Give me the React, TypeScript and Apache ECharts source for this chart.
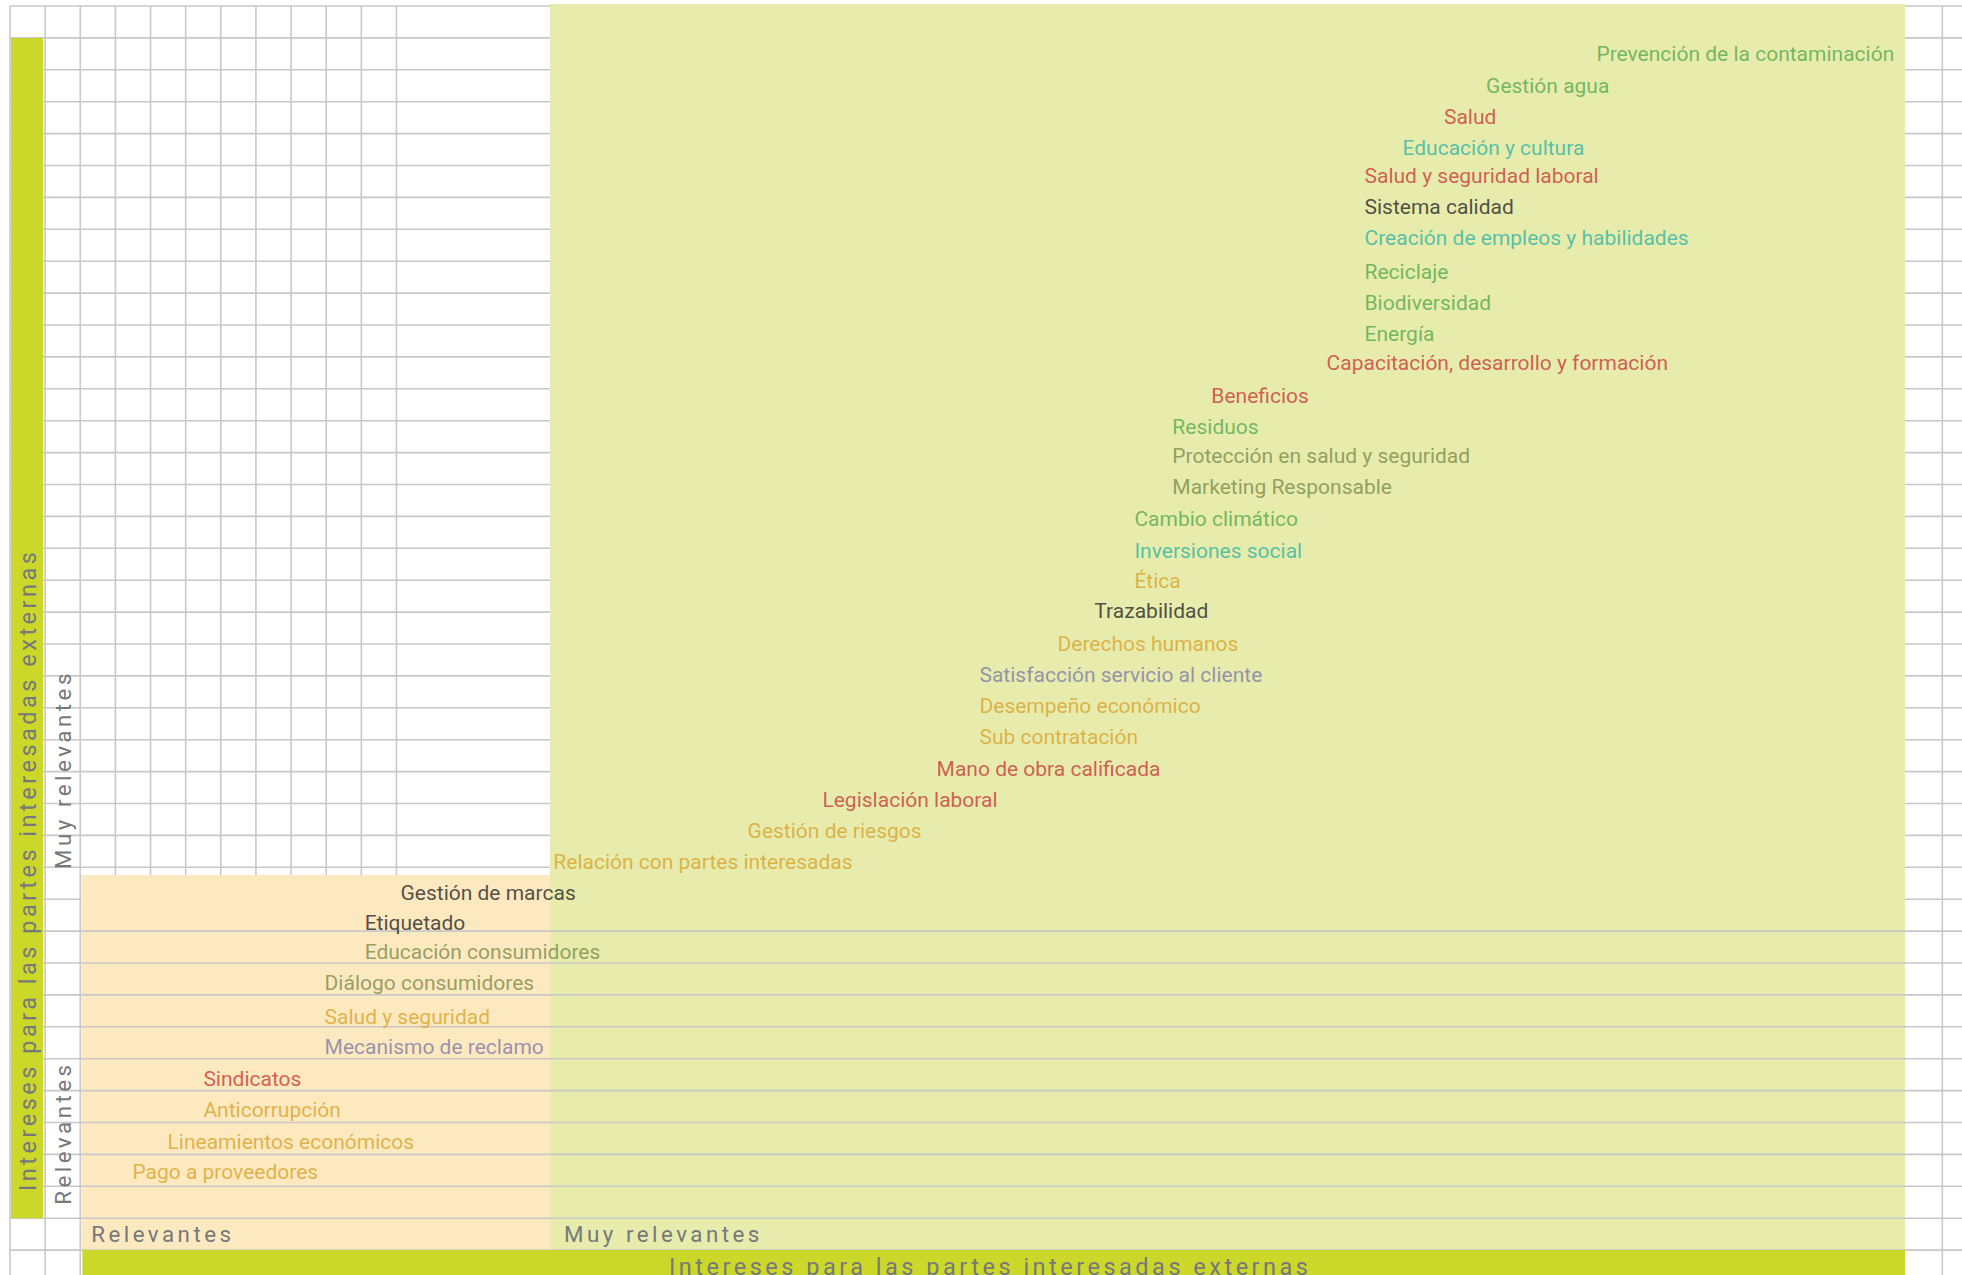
import React, { useEffect, useRef } from "react";
import * as echarts from "echarts";

// ---------- data ----------
const topics = [
  "Prevención de la contaminación",
  "Gestión agua",
  "Salud",
  "Educación y cultura",
  "Salud y seguridad laboral",
  "Sistema calidad",
  "Creación de empleos y habilidades",
  "Reciclaje",
  "Biodiversidad",
  "Energía",
  "Capacitación, desarrollo y formación",
  "Beneficios",
  "Residuos",
  "Protección en salud y seguridad",
  "Marketing Responsable",
  "Cambio climático",
  "Inversiones social",
  "Ética",
  "Trazabilidad",
  "Derechos humanos",
  "Satisfacción servicio al cliente",
  "Desempeño económico",
  "Sub contratación",
  "Mano de obra calificada",
  "Legislación laboral",
  "Gestión de riesgos",
  "Relación con partes interesadas",
  "Gestión de marcas",
  "Etiquetado",
  "Educación consumidores",
  "Diálogo consumidores",
  "Salud y seguridad",
  "Mecanismo de reclamo",
  "Sindicatos",
  "Anticorrupción",
  "Lineamientos económicos",
  "Pago a proveedores",
];

// horizontal position (grid columns)
const internalScore = [
  45.14, 42.0, 40.8, 39.62, 38.54, 38.54, 38.54, 38.54, 38.54, 38.54, 37.46,
  34.18, 33.07, 33.07, 33.07, 31.99, 31.99, 31.99, 30.85, 29.8, 27.58, 27.58,
  27.58, 26.36, 23.11, 20.98, 15.45, 11.1, 10.08, 10.08, 8.94, 8.94, 8.94,
  5.49, 5.49, 4.47, 3.47,
];

// vertical position (grid rows)
const externalScore = [
  37.49, 36.5, 35.52, 34.55, 33.67, 32.71, 31.72, 30.67, 29.69, 28.71, 27.81,
  26.77, 25.81, 24.89, 23.93, 22.92, 21.92, 20.97, 20.04, 19.0, 18.03, 17.05,
  16.07, 15.08, 14.11, 13.13, 12.16, 11.2, 10.25, 9.34, 8.37, 7.3, 6.36, 5.36,
  4.39, 3.4, 2.45,
];

const topicGroup = [
  "ambiental", "ambiental", "laboral", "comunidad", "laboral", "producto",
  "comunidad", "ambiental", "ambiental", "ambiental", "laboral", "laboral",
  "ambiental", "consumidor", "consumidor", "ambiental", "comunidad", "gobierno",
  "producto", "gobierno", "cliente", "gobierno", "gobierno", "laboral",
  "laboral", "gobierno", "gobierno", "producto", "producto", "consumidor",
  "consumidor", "gobierno", "cliente", "laboral", "gobierno", "gobierno",
  "gobierno",
];

const levelLabels = ["Relevantes", "Muy relevantes"];
const axisTitle = "Intereses para las partes interesadas externas";

// ---------- styles / layout ----------
const groupColors: Record<string, string> = {
  ambiental: "#56a84b",
  laboral: "#c93a37",
  comunidad: "#2fb4a3",
  producto: "#262626",
  consumidor: "#7b8b4a",
  gobierno: "#d9a32b",
  cliente: "#7e7ba8",
};

const X_MAX = 55.56;
const Y_MIN = -1;
const Y_MAX = 39;
const THRESHOLD_X = 15.37;
const THRESHOLD_Y = 11.76;
const ZONE_RIGHT = 53.94;
const GRID_COLOR = "#c8c8ca";
const GREEN_ZONE = "#e7ecad";
const PEACH_ZONE = "#fde9c0";
const BAR_GREEN = "#cbd82a";
const TITLE_COLOR = "#76787b";
const FONT = "Roboto";

const baseAxes = {
  grid: { left: 10, top: 6, width: 1952, height: 1276, outerBoundsMode: "none" },
  xAxis: { type: "value", min: 0, max: X_MAX, show: false },
  yAxis: { type: "value", min: Y_MIN, max: Y_MAX, show: false },
};

export default function App() {
  const mainRef = useRef<HTMLDivElement>(null);
  const overRef = useRef<HTMLDivElement>(null);

  useEffect(() => {
    document.body.style.margin = "0";
    document.body.style.overflow = "hidden";
    const chart = echarts.init(mainRef.current!, null, { renderer: "svg" });
    const over = echarts.init(overRef.current!, null, { renderer: "svg" });

    const frameRender = (_params: any, api: any) => {
      const c = (x: number, y: number) => api.coord([x, y]);
      const children: any[] = [];
      const line = (x0: number, y0: number, x1: number, y1: number) => {
        const a = c(x0, y0);
        const b = c(x1, y1);
        children.push({
          type: "line",
          shape: { x1: a[0], y1: a[1], x2: b[0], y2: b[1] },
          style: { stroke: GRID_COLOR, lineWidth: 1.6 },
        });
      };
      const rect = (x0: number, y0: number, x1: number, y1: number, fill: string) => {
        const p0 = c(x0, y1);
        const p1 = c(x1, y0);
        children.push({
          type: "rect",
          shape: { x: p0[0], y: p0[1], width: p1[0] - p0[0], height: p1[1] - p0[1] },
          style: { fill },
        });
      };
      for (let y = 0; y <= Y_MAX; y++) line(0, y, X_MAX, y);
      for (let x = 0; x <= 11; x++) line(x, Y_MIN, x, Y_MAX);
      line(55, Y_MIN, 55, Y_MAX);
      rect(THRESHOLD_X, 0, ZONE_RIGHT, Y_MAX + 0.06, GREEN_ZONE);
      rect(2.03, 0, THRESHOLD_X, THRESHOLD_Y, PEACH_ZONE);
      for (let y = 0; y <= 10; y++) line(2.03, y, ZONE_RIGHT, y);
      rect(0.03, 1, 0.94, 38, BAR_GREEN);
      rect(2.06, Y_MIN, ZONE_RIGHT, 0, BAR_GREEN);
      return { type: "group", children };
    };

    chart.setOption({
      animation: false,
      backgroundColor: "#ffffff",
      ...baseAxes,
      series: [
        {
          type: "custom",
          coordinateSystem: "cartesian2d",
          data: [[0, 0]],
          renderItem: frameRender,
          clip: false,
          silent: true,
          z: 1,
        },
        {
          type: "scatter",
          symbol: "circle",
          symbolSize: 1,
          itemStyle: { color: "rgba(0,0,0,0)" },
          silent: true,
          z: 5,
          label: {
            show: true,
            position: "right",
            distance: 0,
            formatter: "{b}",
            fontFamily: FONT,
            fontSize: 21,
          },
          labelLayout: { hideOverlap: false },
          data: topics.map((name, i) => ({
            name,
            value: [internalScore[i], externalScore[i]],
            label: { color: groupColors[topicGroup[i]] },
          })),
        },
      ],
    });

    const titleRender = (_params: any, api: any) => {
      const t = (text: string, x: number, y: number, size: number, align: string, rotated: boolean) => {
        const p = api.coord([x, y]);
        return {
          type: "text",
          x: p[0],
          y: p[1],
          rotation: rotated ? Math.PI / 2 : 0,
          style: {
            text,
            fill: TITLE_COLOR,
            font: `${size}px ${FONT}`,
            align,
            verticalAlign: "middle",
            textAlign: align,
            textVerticalAlign: "middle",
          },
        };
      };
      return {
        type: "group",
        children: [
          t(axisTitle, 0.5, 1.85, 23.5, "left", true),
          t(axisTitle, 27.9, -0.52, 23.5, "center", false),
          t(levelLabels[0], 2.31, 0.5, 22.3, "left", false),
          t(levelLabels[1], 15.77, 0.5, 22.3, "left", false),
          t(levelLabels[1], 1.5, 11.95, 22.3, "left", true),
          t(levelLabels[0], 1.5, 1.42, 22.3, "left", true),
        ],
      };
    };

    over.setOption({
      animation: false,
      ...baseAxes,
      series: [
        {
          type: "custom",
          coordinateSystem: "cartesian2d",
          data: [[0, 0]],
          renderItem: titleRender,
          clip: false,
          silent: true,
        },
      ],
    });

    return () => {
      chart.dispose();
      over.dispose();
    };
  }, []);

  return (
    <div style={{ position: "relative", width: 1962, height: 1275, overflow: "hidden" }}>
      <div ref={mainRef} style={{ position: "absolute", left: 0, top: 0, width: 1962, height: 1275 }} />
      <div
        ref={overRef}
        style={{
          position: "absolute",
          left: 0,
          top: 0,
          width: 1962,
          height: 1275,
          letterSpacing: "3.5px",
          pointerEvents: "none",
        }}
      />
    </div>
  );
}
